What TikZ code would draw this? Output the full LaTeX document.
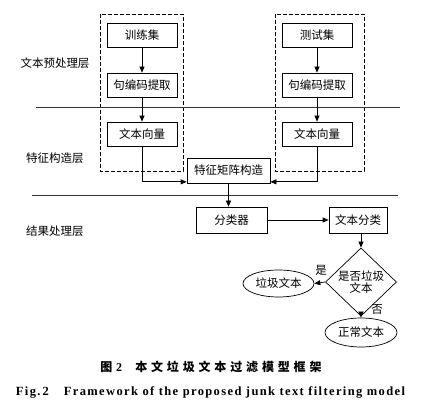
\documentclass[tikz,border=0pt]{standalone}
\usepackage{fontspec}
\setmainfont{Liberation Serif}
\newfontfamily\cjk{Noto Sans CJK SC}
\newfontfamily\cjkcap[LetterSpace=32]{Noto Sans CJK SC}
\newfontfamily\capfont[LetterSpace=11]{Liberation Serif}
\usetikzlibrary{arrows.meta,shapes.geometric}
\begin{document}
\begin{tikzpicture}[x=1pt,y=-1pt,
  txt/.style={font=\cjk\fontsize{11.5}{13.5}\selectfont, inner sep=0pt},
  box/.style={txt, draw, line width=0.7pt, minimum width=70pt, minimum height=24pt},
  dbox/.style={draw, line width=0.7pt, dash pattern=on 4pt off 2pt},
  layer/.style={draw=black!80, line width=0.7pt},
  arr/.style={draw, line width=0.7pt, -{Triangle[length=6pt,width=5pt]}},
  oval/.style={txt, draw, ellipse, line width=0.7pt, inner sep=0pt},
  dia/.style={txt, draw, diamond, line width=0.7pt, inner sep=0pt, align=center}
]
\useasboundingbox (0,0) rectangle (429,411);
\fill[white] (0,0) rectangle (429,411);
% dashed groups
\draw[dbox] (100,14) rectangle (183,171);
\draw[dbox] (275,14) rectangle (364,171);
% layer lines
\coordinate (l1a) at (36,107); \coordinate (l1b) at (400,107);
\coordinate (l2a) at (32,195); \coordinate (l2b) at (398,195);
\draw[layer] (l1a) -- (l1b);
\draw[layer] (l2a) -- (l2b);
% layer labels
\node[txt] (lab1) at (55,63) {文本预处理层};
\node[txt] (lab2) at (55,158) {特征构造层};
\node[txt] (lab3) at (55,231) {结果处理层};
% boxes
\node[box] (train) at (142,35) {训练集};
\node[box] (enc1) at (142,85) {句编码提取};
\node[box] (vec1) at (142,134) {文本向量};
\node[box] (test) at (317,35) {测试集};
\node[box] (enc2) at (317,85) {句编码提取};
\node[box] (vec2) at (317,134) {文本向量};
\node[box, minimum width=83pt, minimum height=25pt, fill=white] (feat) at (228.5,170.5) {特征矩阵构造};
\node[box, minimum width=71pt, minimum height=26pt] (cls) at (231.5,220) {分类器};
\node[box, minimum width=58pt, minimum height=26pt] (tcls) at (358,220) {文本分类};
\node[dia, minimum width=71pt, minimum height=48pt] (dec) at (361,282) {是否垃圾\\[-2pt]文本};
\node[oval, minimum width=71pt, minimum height=27pt] (junk) at (278.5,283.5) {垃圾文本};
\node[oval, minimum width=72pt, minimum height=29pt] (norm) at (361,332.5) {正常文本};
% arrows
\draw[arr] (train) -- (enc1);
\draw[arr] (enc1) -- (vec1);
\draw[arr] (test) -- (enc2);
\draw[arr] (enc2) -- (vec2);
\draw[arr] (vec1.south) |- ([yshift=1.5pt]feat.south west);
\draw[arr] (vec2.south) |- ([yshift=1.5pt]feat.south east);
\draw[arr] (feat.south) -- (feat.south |- cls.north);
\draw[arr] (cls) -- (tcls);
\draw[arr] (dec.north |- tcls.south) -- (dec.north);
\draw[arr] (dec.west) -- (junk.east);
\draw[arr] (dec.south) -- (norm.north);
\node[txt] (yes) at (321,270) {是};
\node[txt] (no) at (377,309) {否};
% captions
\node[inner sep=0pt, font=\cjkcap\bfseries\fontsize{12}{14}\selectfont] (cap1) at (211,367) {图\hspace{0.3em}{\capfont\bfseries 2}\hspace{1.1em}本文垃圾文本过滤模型框架};
\node[inner sep=0pt, font=\capfont\bfseries\fontsize{12.5}{14}\selectfont] (cap2) at (210.5,392) {Fig.\,2\hspace{1.2em}Framework of the proposed junk text filtering model};
\end{tikzpicture}
\end{document}
